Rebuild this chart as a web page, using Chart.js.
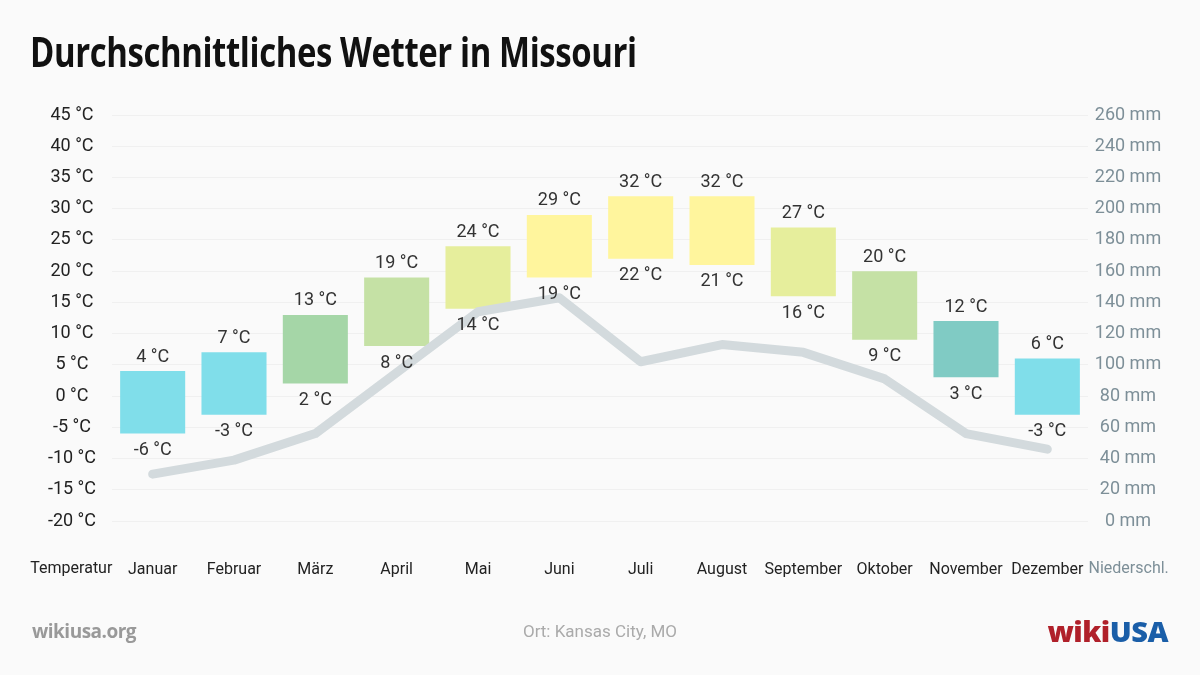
<!DOCTYPE html>
<html>
<head>
<meta charset="utf-8">
<script src="https://cdn.jsdelivr.net/npm/chart.js@4"></script>
<style>
  html, body { margin: 0; padding: 0; background: #fafafa; }
  #wrap { position: relative; width: 1200px; height: 675px; overflow: hidden; }
  #chart { position: absolute; left: 0; top: 0; }
  h1 { position: absolute; left: 30px; top: 22px; margin: 0; font-family: "Open Sans", sans-serif; font-size: 42px; font-weight: bold; color: #111; letter-spacing: -0.5px; transform-origin: left center; white-space: nowrap; }
  .foot { position: absolute; top: 618px; }
  #site { left: 32px; font-family: "Open Sans", sans-serif; font-weight: bold; font-size: 19px; color: #999; letter-spacing: -0.5px; }
  #ort { left: 0; width: 1200px; text-align: center; font-family: Roboto, sans-serif; font-size: 17px; color: #aaa; top: 621px; }
  #logo { right: 32px; top: 611px; font-family: "Open Sans", sans-serif; font-weight: 800; font-size: 29px; letter-spacing: -0.5px; }
  #logo .w { color: #b0202a; }
  #logo .u { color: #1a5ea8; }
</style>
</head>
<body>
<div id="wrap">
  <canvas id="chart" width="1200" height="675"></canvas>
  <h1 id="title">Durchschnittliches Wetter in Missouri</h1>
  <div id="site" class="foot">wikiusa.org</div>
  <div id="ort" class="foot">Ort: Kansas City, MO</div>
  <div id="logo" class="foot"><span class="w">wiki</span><span class="u">USA</span></div>
</div>
<script>
const months = ['Januar', 'Februar', 'März', 'April', 'Mai', 'Juni', 'Juli', 'August', 'September', 'Oktober', 'November', 'Dezember'];
const tempMax = [4, 7, 13, 19, 24, 29, 32, 32, 27, 20, 12, 6];
const tempMin = [-6, -3, 2, 8, 14, 19, 22, 21, 16, 9, 3, -3];
const precip = [30, 39, 56, 95, 134, 143, 102, 113, 108, 91, 56, 46];
const barColors = ['#80deea', '#80deea', '#a5d6a7', '#c5e1a5', '#e6ee9c', '#fff59d', '#fff59d', '#fff59d', '#e6ee9c', '#c5e1a5', '#80cbc4', '#80deea'];
const tempTicks = [-20, -15, -10, -5, 0, 5, 10, 15, 20, 25, 30, 35, 40, 45];
const rainTicks = [0, 20, 40, 60, 80, 100, 120, 140, 160, 180, 200, 220, 240, 260];

const FONT = 'Roboto, "Liberation Sans", sans-serif';
const TICK_SIZE = 18;

// Titel auf die Breite des Originals stauchen
const title = document.getElementById('title');
title.style.transform = 'scaleX(' + (607 / title.offsetWidth) + ')';

// Breiteste Achsenbeschriftung messen, damit die Labels mittig bei 72 / 1128 stehen
const mctx = document.createElement('canvas').getContext('2d');
mctx.font = TICK_SIZE + 'px ' + FONT;
const widest = arr => Math.max(...arr.map(t => mctx.measureText(t).width));
const leftW = widest(tempTicks.map(v => v + ' °C'));
const rightW = widest(rainTicks.map(v => v + ' mm'));

const labelPlugin = {
    id: 'labels',
    afterDatasetsDraw(chart) {
        const ctx = chart.ctx;
        const meta = chart.getDatasetMeta(1);
        ctx.save();
        ctx.font = '18px ' + FONT;
        ctx.fillStyle = '#333';
        ctx.textAlign = 'center';
        meta.data.forEach((bar, i) => {
            const top = Math.min(bar.y, bar.base);
            const bottom = Math.max(bar.y, bar.base);
            ctx.textBaseline = 'bottom';
            ctx.fillText(tempMax[i] + ' °C', bar.x, top - 5);
            ctx.textBaseline = 'top';
            ctx.fillText(tempMin[i] + ' °C', bar.x, bottom + 8);
        });
        const x = chart.scales.x;
        const y = x.top + 48;
        ctx.font = '16px ' + FONT;
        ctx.textBaseline = 'middle';
        ctx.fillStyle = '#222';
        ctx.fillText('Temperatur', x.getPixelForValue(-1), y);
        ctx.fillStyle = '#7d8f98';
        ctx.fillText('Niederschl.', x.getPixelForValue(months.length), y);
        ctx.restore();
    }
};

new Chart(document.getElementById('chart'), {
    type: 'bar',
    data: {
        labels: months,
        datasets: [{
            type: 'line',
            data: precip,
            yAxisID: 'y2',
            borderColor: '#d3dadd',
            borderWidth: 9,
            borderCapStyle: 'round',
            borderJoinStyle: 'round',
            pointRadius: 0,
            tension: 0,
            order: 0
        }, {
            data: tempMin.map((v, i) => [v, tempMax[i]]),
            backgroundColor: barColors,
            borderWidth: 0,
            categoryPercentage: 1,
            barPercentage: 0.8,
            order: 1
        }]
    },
    options: {
        responsive: false,
        animation: false,
        layout: { padding: { top: 115, bottom: 0, left: 0, right: 0 } },
        plugins: { legend: { display: false }, tooltip: { enabled: false } },
        scales: {
            x: {
                grid: { display: false },
                border: { display: false },
                ticks: { padding: 31, color: '#222', font: { family: FONT, size: 16 }, maxRotation: 0, autoSkip: false },
                afterFit(scale) { scale.height = 154; }
            },
            y: {
                position: 'left',
                min: -20, max: 45,
                grid: { color: '#f0f0f0', drawTicks: false },
                border: { display: false },
                ticks: {
                    stepSize: 5, crossAlign: 'center', padding: 112 - 72 - leftW / 2, color: '#222',
                    font: { family: FONT, size: TICK_SIZE },
                    callback: v => v + ' °C'
                },
                afterFit(scale) { scale.width = 112; }
            },
            y2: {
                position: 'right',
                min: 0, max: 260,
                grid: { display: false, drawTicks: false },
                border: { display: false },
                ticks: {
                    stepSize: 20, crossAlign: 'center', padding: 1128 - 1088 - rightW / 2, color: '#7d8f98',
                    font: { family: FONT, size: TICK_SIZE },
                    callback: v => v + ' mm'
                },
                afterFit(scale) { scale.width = 112; }
            }
        }
    },
    plugins: [labelPlugin]
});
</script>
</body>
</html>
